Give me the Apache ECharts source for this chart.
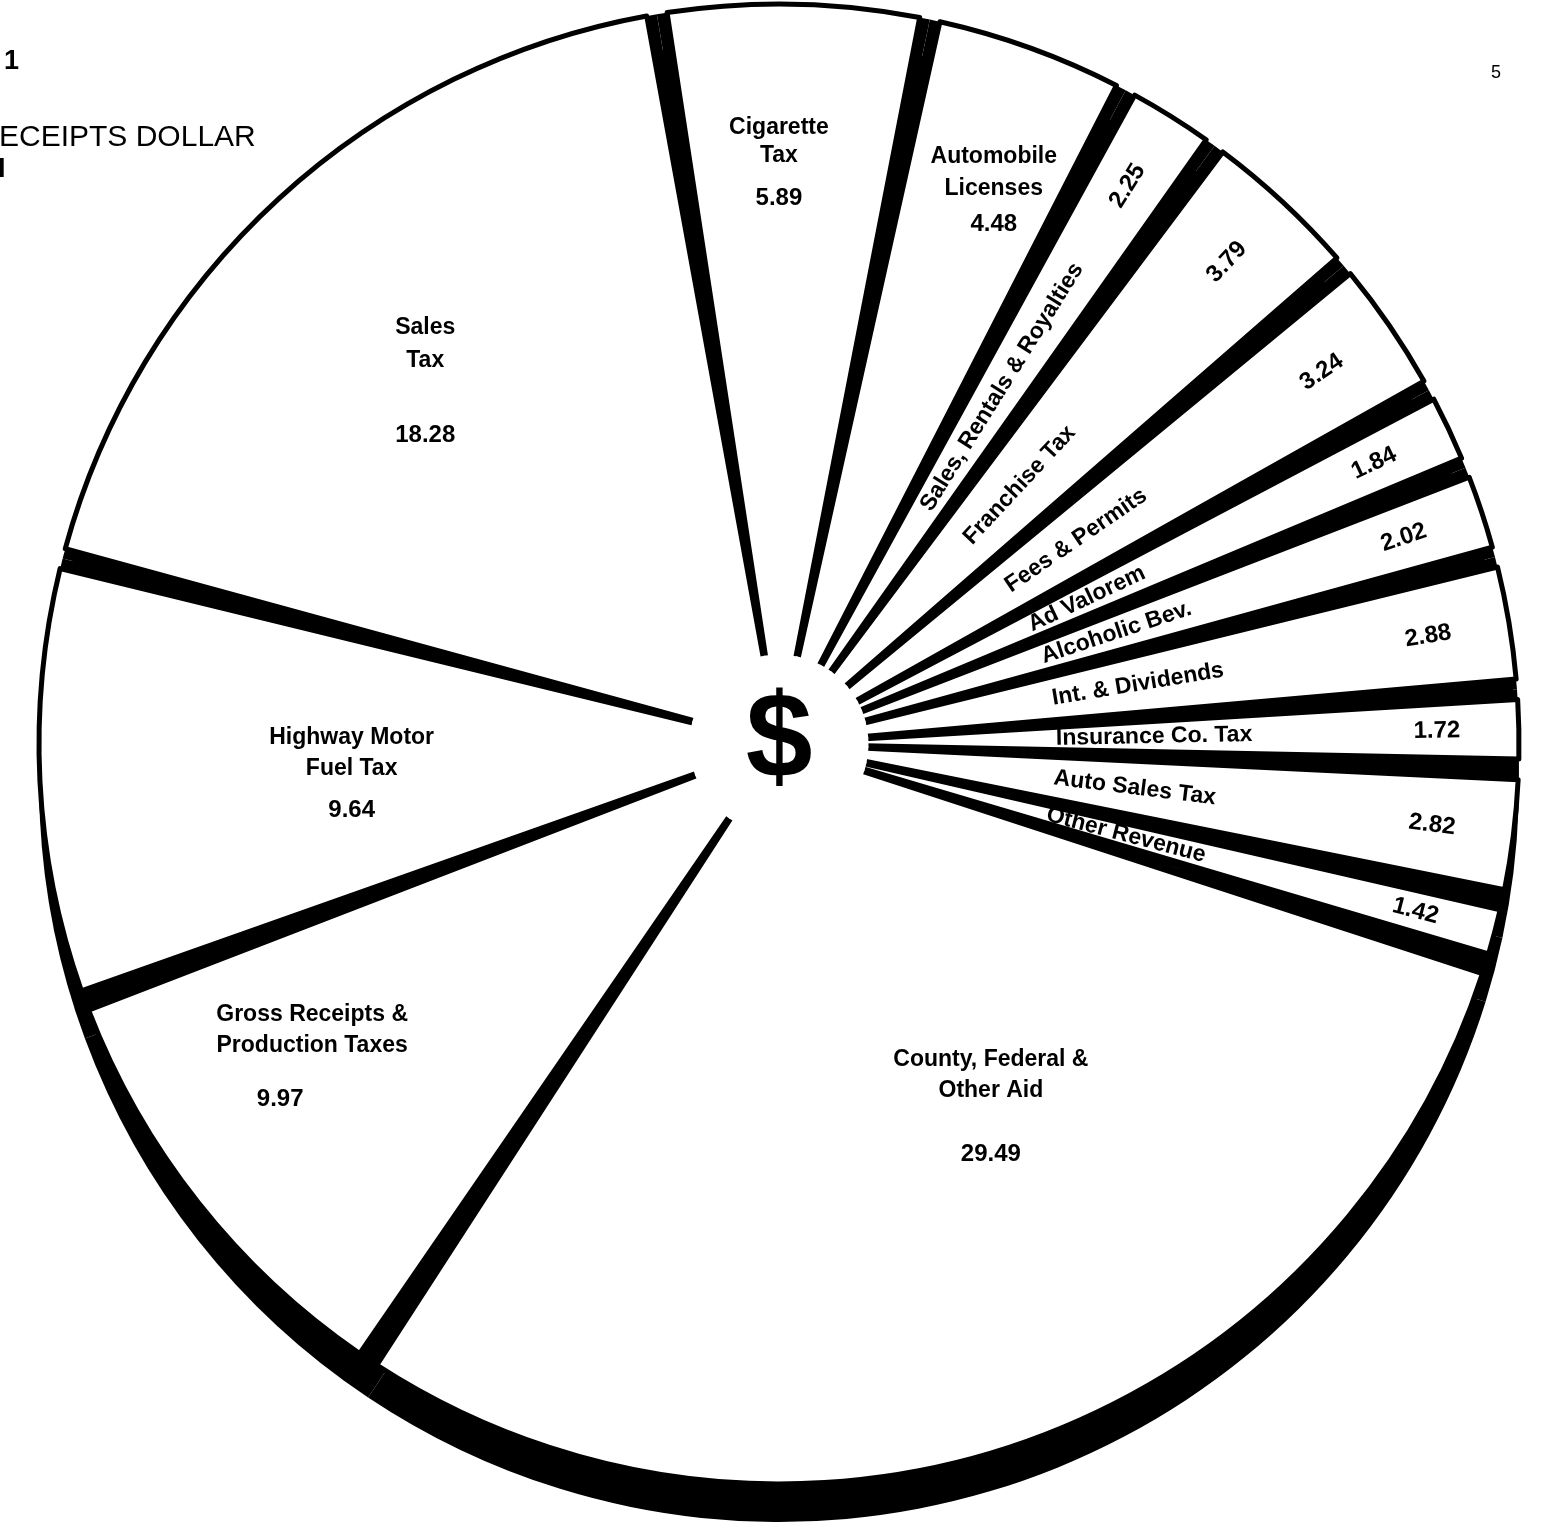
<!DOCTYPE html>
<html>
<head>
<meta charset="utf-8">
<script src="https://cdn.jsdelivr.net/npm/echarts@6.0.0/dist/echarts.min.js"></script>
<style>
html,body{margin:0;padding:0;background:#fff;}
#chart{width:1546px;height:1531px;}
</style>
</head>
<body>
<div id="chart"></div>
<script>
// ---------- data ----------
const categories = [
  'Cigarette Tax', 'Automobile Licenses', 'Sales, Rentals & Royalties', 'Franchise Tax',
  'Fees & Permits', 'Ad Valorem', 'Alcoholic Bev.', 'Int. & Dividends', 'Insurance Co. Tax',
  'Auto Sales Tax', 'Other Revenue', 'County, Federal & Other Aid',
  'Gross Receipts & Production Taxes', 'Highway Motor Fuel Tax', 'Sales Tax'
];
const values = [5.89, 4.48, 2.25, 3.79, 3.24, 1.84, 2.02, 2.88, 1.72, 2.82, 1.42, 29.49, 9.97, 9.64, 18.28];
const labelText = [
  'Cigarette\nTax', 'Automobile\nLicenses', 'Sales, Rentals & Royalties', 'Franchise Tax',
  'Fees & Permits', 'Ad Valorem', 'Alcoholic Bev.', 'Int. & Dividends', 'Insurance Co. Tax',
  'Auto Sales Tax', 'Other Revenue', 'County, Federal &\nOther Aid',
  'Gross Receipts &\nProduction Taxes', 'Highway Motor\nFuel Tax', 'Sales\nTax'
];
const bigSlice = [true, true, false, false, false, false, false, false, false, false, false, true, true, true, true];
const titleLines = ['1', 'ECEIPTS DOLLAR', 'I'];
const pageNumber = '5';

// ---------- layout / style (kept separate from data) ----------
const FONT = '"Liberation Sans", Arial, sans-serif';
const CX = 779, CY = 744, R = 740, HUB = 88, DROP = 38, START = 99.5;
const nameLineHeight = {0: 28, 1: 32, 11: 31, 12: 31, 13: 31, 14: 33};
const valueLineHeight = {0: 56, 1: 38, 11: 95, 12: 77, 13: 53, 14: 115};
const valuePadding = {12: [0, 64, 0, 0]};
const bigLabelNudge = {0: [-10, -71], 1: [44, -79], 11: [44, -95], 12: [-72, 13], 13: [75, 10], 14: [-14, 29]};

const baseData = categories.map((c, i) => ({name: c, value: values[i]}));
const common = {
  type: 'pie', center: [CX, CY], startAngle: START, clockwise: true,
  animation: false, silent: true, avoidLabelOverlap: false,
  labelLine: {show: false}, emphasis: {disabled: true}
};
const txt = {color: '#000', fontFamily: FONT, fontWeight: 'bold'};

const series = [
  // drop shadow (3-D rim)
  Object.assign({}, common, {
    center: [CX, CY + DROP], radius: [0, R], z: 1,
    itemStyle: {color: '#000'}, label: {show: false}, data: baseData
  }),
  // black fill behind the gaps
  Object.assign({}, common, {
    radius: [0, R], z: 2,
    itemStyle: {color: '#000'}, label: {show: false}, data: baseData
  }),
  // white slices
  Object.assign({}, common, {
    radius: [0, R], padAngle: 1.6, z: 3,
    itemStyle: {color: '#fff', borderColor: '#000', borderWidth: 5},
    label: {show: false}, data: baseData
  }),
  // hub with dollar sign
  Object.assign({}, common, {
    radius: [0, HUB], z: 4,
    itemStyle: {color: '#fff', borderColor: '#fff', borderWidth: 3},
    label: {show: false},
    data: baseData.map((d, i) => i === 0 ? Object.assign({}, d, {
      label: Object.assign({show: true, position: 'center', formatter: '$', fontSize: 120}, txt)
    }) : d)
  }),
  // big-slice labels
  Object.assign({}, common, {
    radius: [400, 600], z: 5,
    itemStyle: {color: 'rgba(0,0,0,0)'}, label: {show: false},
    labelLayout: p => {
      const n = bigLabelNudge[p.dataIndex];
      return n ? {dx: n[0], dy: n[1]} : {};
    },
    data: baseData.map((d, i) => {
      if (!bigSlice[i]) return d;
      const lines = labelText[i].split('\n').map(l => '{n|' + l + '}').join('\n');
      return Object.assign({}, d, {
        label: {
          show: true, position: 'inside',
          formatter: lines + '\n{v|' + values[i].toFixed(2) + '}',
          rich: {
            n: Object.assign({fontSize: 23, lineHeight: nameLineHeight[i], align: 'center', verticalAlign: 'middle'}, txt),
            v: Object.assign({fontSize: 24, lineHeight: valueLineHeight[i], align: 'center', verticalAlign: 'middle',
              padding: valuePadding[i] || [0, 0, 0, 0]}, txt)
          }
        }
      });
    })
  }),
  // small-slice names (radial)
  Object.assign({}, common, {
    radius: [224, 324], z: 5,
    itemStyle: {color: 'rgba(0,0,0,0)'}, label: {show: false},
    labelLayout: () => ({align: 'left'}),
    data: baseData.map((d, i) => bigSlice[i] ? d : Object.assign({}, d, {
      label: Object.assign({show: true, position: 'inside', rotate: 'radial', formatter: labelText[i], fontSize: 23}, txt)
    }))
  }),
  // small-slice values (radial)
  Object.assign({}, common, {
    radius: [605, 705], z: 5,
    itemStyle: {color: 'rgba(0,0,0,0)'}, label: {show: false},
    data: baseData.map((d, i) => bigSlice[i] ? d : Object.assign({}, d, {
      label: Object.assign({show: true, position: 'inside', rotate: 'radial', formatter: values[i].toFixed(2), fontSize: 24}, txt)
    }))
  })
];

const chart = echarts.init(document.getElementById('chart'), null, {renderer: 'canvas'});
chart.setOption({
  backgroundColor: '#fff',
  title: [
    {text: titleLines[0], left: 4, top: 48, padding: 0, textStyle: {fontSize: 27, fontWeight: 'bold', color: '#000', fontFamily: FONT}},
    {text: titleLines[1], left: -1, top: 123, padding: 0, textStyle: {fontSize: 30, fontWeight: 'normal', color: '#000', fontFamily: FONT}},
    {text: titleLines[2], left: -2, top: 156, padding: 0, textStyle: {fontSize: 27, fontWeight: 'bold', color: '#000', fontFamily: FONT}},
    {text: pageNumber, left: 1491, top: 64, padding: 0, textStyle: {fontSize: 18, fontWeight: 'normal', color: '#000', fontFamily: FONT}}
  ],
  series: series
});
</script>
</body>
</html>
